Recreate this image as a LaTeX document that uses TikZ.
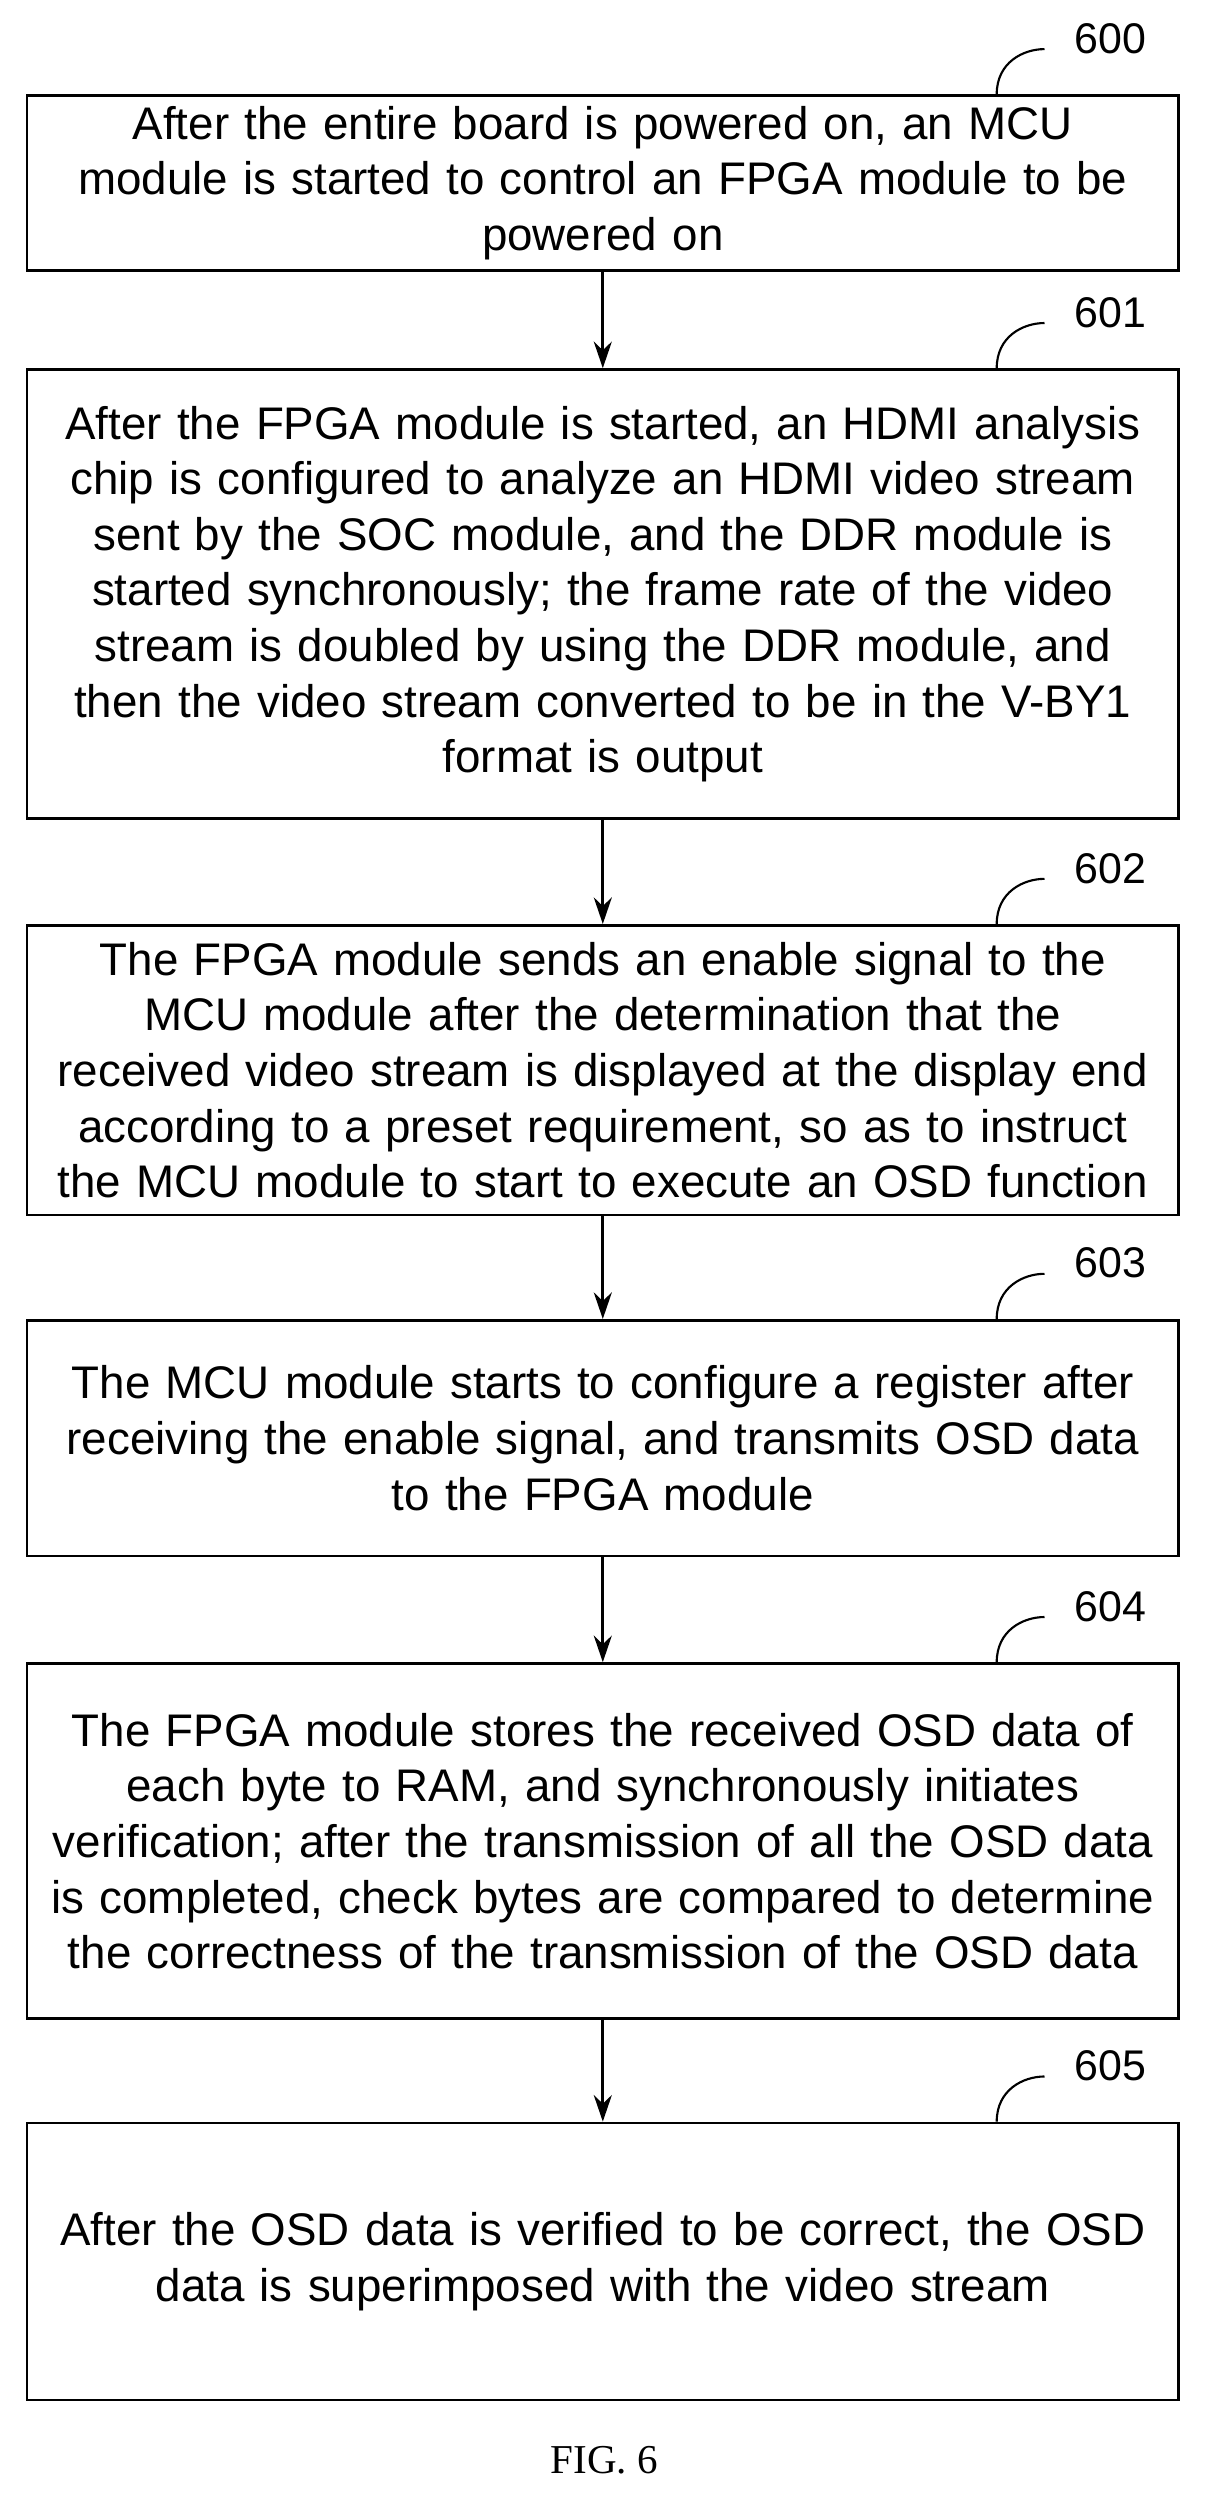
\documentclass[tikz,border=0pt]{standalone}
\usepackage{fontspec}
\setmainfont{Liberation Sans}
\setsansfont{Liberation Sans}
\newfontfamily\figfont{Liberation Serif}
\usetikzlibrary{arrows.meta,positioning}
\tikzset{
  stepbox/.style={draw, line width=0.05cm, minimum width=21.69cm, align=center,
    text width=21.6cm, font=\fontsize{24.5}{29.8}\selectfont, inner sep=0pt},
  flow/.style={line width=0.05cm, -{Stealth[length=0.5cm,width=0.34cm]}},
  hook/.style={line width=0.04cm},
  tag/.style={font=\fontsize{23}{26}\selectfont}
}
\begin{document}
\begin{tikzpicture}[x=0.03cm,y=-0.03cm]
    \useasboundingbox (0,0) rectangle (759,1566);
    \node[stepbox, minimum height=3.3cm] (s600) at (378.5,115) {After the entire board is powered on, an MCU\\module is started to control an FPGA module to be\\powered on};
    \node[stepbox, minimum height=8.46cm] (s601) at (378.5,373) {After the FPGA module is started, an HDMI analysis\\chip is configured to analyze an HDMI video stream\\sent by the SOC module, and the DDR module is\\started synchronously; the frame rate of the video\\stream is doubled by using the DDR module, and\\then the video stream converted to be in the V-BY1\\format is output};
    \node[stepbox, minimum height=5.46cm] (s602) at (378.5,672) {The FPGA module sends an enable signal to the\\MCU module after the determination that the\\received video stream is displayed at the display end\\according to a preset requirement, so as to instruct\\the MCU module to start to execute an OSD function};
    \node[stepbox, minimum height=4.44cm] (s603) at (378.5,903) {The MCU module starts to configure a register after\\receiving the enable signal, and transmits OSD data\\to the FPGA module};
    \node[stepbox, minimum height=6.69cm] (s604) at (378.5,1156) {The FPGA module stores the received OSD data of\\each byte to RAM, and synchronously initiates\\verification; after the transmission of all the OSD data\\is completed, check bytes are compared to determine\\the correctness of the transmission of the OSD data};
    \node[stepbox, minimum height=5.22cm] (s605) at (378.5,1420) {After the OSD data is verified to be correct, the OSD\\data is superimposed with the video stream};
    % arrows
    \foreach \a/\b in {s600/s601,s601/s602,s602/s603,s603/s604,s604/s605}
        \draw[flow] (\a.south) -- (\b.north);
    % reference numbers
    \foreach \s/\n in {s600/600,s601/601,s602/602,s603/603,s604/604,s605/605} {
        \coordinate (h\n) at ([xshift=-3.45cm]\s.north east);
        \coordinate (e\n) at ([xshift=-2.55cm,yshift=0.85cm]\s.north east);
        \draw[hook] (h\n) .. controls ([yshift=0.6cm]h\n) and ([xshift=-0.4cm]e\n) .. (e\n);
        \node[tag, right=0.45cm of e\n, yshift=0.2cm] (l\n) {\n};
    }
    \node[font=\figfont\fontsize{22}{24}\selectfont] (fig) at (379.5,1545) {FIG. 6};
\end{tikzpicture}
\end{document}
